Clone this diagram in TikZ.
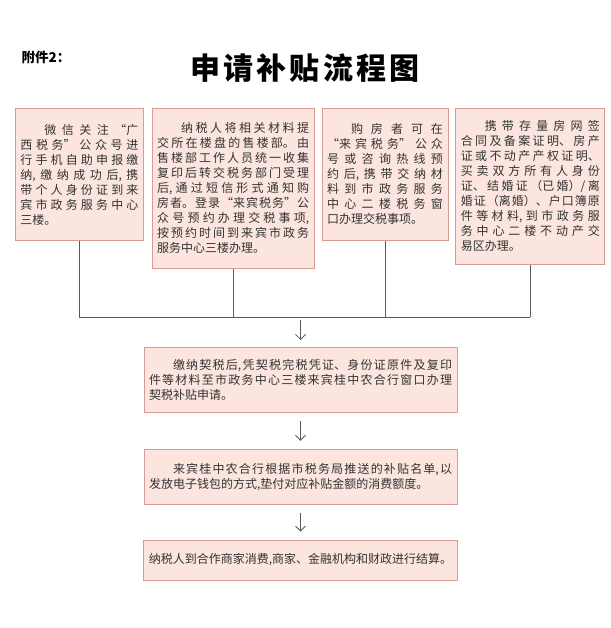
\documentclass[tikz,border=0pt]{standalone}
\usepackage{fontspec}
\setmainfont{Noto Sans CJK SC}
\newfontfamily\titlefont[LetterSpace=11]{Noto Sans CJK SC}
\usetikzlibrary{positioning,arrows.meta}
\XeTeXlinebreaklocale "zh"
\XeTeXlinebreakskip=0pt plus 8pt
\definecolor{boxfill}{HTML}{FCE5DE}
\definecolor{boxline}{HTML}{D89A94}
\definecolor{linkgray}{HTML}{5A5A5A}
\definecolor{textgray}{HTML}{333333}
\newcommand{\brk}{\penalty-10000\relax}
\newcommand{\ind}{\hspace*{2em}}

\begin{document}
\begin{tikzpicture}[x=1pt,y=-1pt,>={Straight Barb[length=5pt,width=10pt]},
    box/.style={draw=boxline,fill=boxfill,line width=0.8pt,inner xsep=5pt,inner ysep=8pt,text=textgray,font={\fontsize{12}{15}\selectfont},align=justify,execute at begin node={\parindent=0pt}},
    link/.style={draw=linkgray,line width=0.8pt},
    flow/.style={->,draw=linkgray,line width=0.8pt}]

            \useasboundingbox (0,0) rectangle (610,628);

            \node[anchor=west,font={\bfseries\fontsize{13.5}{15}\selectfont}] (tag) at (18,57) {附件2：};
            \node[font={\titlefont\bfseries\fontsize{30}{34}\selectfont}] (title) at (305,68) {申请补贴流程图};

            \node[box,text width=118pt,minimum height=132pt,anchor=north west] (b1) at (15,108) {\ind 微信关注“广\brk 西税务”公众号进\brk 行手机自助申报缴\brk 纳,缴纳成功后,携\brk 带个人身份证到来\brk 宾市政务服务中心\brk 三楼。};
            \node[box,text width=152pt,minimum height=160pt] (b2) [right=8pt of b1.north east,anchor=north west] {\ind 纳税人将相关材料提\brk 交所在楼盘的售楼部。由\brk 售楼部工作人员统一收集\brk 复印后转交税务部门受理\brk 后,通过短信形式通知购\brk 房者。登录“来宾税务”公\brk 众号预约办理交税事项,\brk 按预约时间到来宾市政务\brk 服务中心三楼办理。};
            \node[box,text width=116pt,minimum height=132pt] (b3) [right=7pt of b2.north east,anchor=north west] {\ind 购房者可在\brk “来宾税务”公众\brk 号或咨询热线预\brk 约后,携带交纳材\brk 料到市政务服务\brk 中心二楼税务窗\brk 口办理交税事项。};
            \node[box,text width=139pt,minimum height=156pt] (b4) [right=7pt of b3.north east,anchor=north west] {\ind 携带存量房网签\brk 合同及备案证明、房产\brk 证或不动产产权证明、\brk 买卖双方所有人身份\brk 证、结婚证（已婚）/离\brk 婚证（离婚）、户口簿原\brk 件等材料,到市政务服\brk 务中心二楼不动产交\brk 易区办理。};

            \coordinate (bus) at (0,317);

            \node[box,text width=303pt,minimum height=65pt,anchor=north] (b5) at (300.5,347) {\ind 缴纳契税后,凭契税完税凭证、身份证原件及复印\brk 件等材料至市政务中心三楼来宾桂中农合行窗口办理\brk 契税补贴申请。};
            \node[box,text width=303pt,minimum height=55pt] (b6) [below=36pt of b5] {\ind 来宾桂中农合行根据市税务局推送的补贴名单,以\brk 发放电子钱包的方式,垫付对应补贴金额的消费额度。};
            \node[box,align=center,minimum width=313pt,minimum height=40pt] (b7) [below=35pt of b6] {纳税人到合作商家消费,商家、金融机构和财政进行结算。};

            \coordinate (a1) at (b5.north |- bus);

            \path[link]
                (b1.south) edge (b1.south |- bus)
                (b2.south) edge (b2.south |- bus)
                (b3.south) edge (b3.south |- bus)
                (b4.south) edge (b4.south |- bus)
                (b1.south |- bus) edge (b4.south |- bus)
            ;
            \draw[flow] ([yshift=-3pt]a1) -- ([yshift=7pt]b5.north);
            \draw[flow] ([yshift=-8pt]b5.south) -- ([yshift=8pt]b6.north);
            \draw[flow] ([yshift=-8pt]b6.south) -- ([yshift=8pt]b7.north);
        \end{tikzpicture}
\end{document}
